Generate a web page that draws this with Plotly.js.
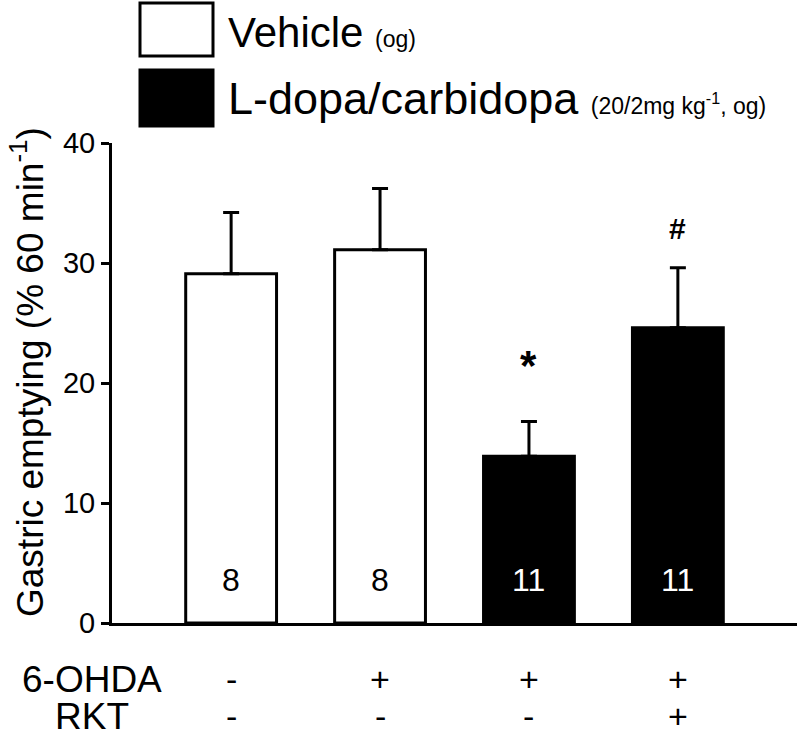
<!DOCTYPE html>
<html>
<head>
<meta charset="utf-8">
<script src="https://cdn.plot.ly/plotly-3.0.1.min.js"></script>
<style>html,body{margin:0;padding:0;background:#fff;}#chart{width:800px;height:737px;}</style>
</head>
<body>
<div id="chart"></div>
<script>
// ---- data ----
const groups = [0, 1, 2, 3];
const vehicleX = [0, 1];
const vehicleMean = [29.1, 31.1];
const vehicleSem = [5.1, 5.1];
const ldopaX = [2, 3];
const ldopaMean = [13.9, 24.6];
const ldopaSem = [2.9, 5.0];
const nLabels = ['8', '8', '11', '11'];
const ohdaRow = ['-', '+', '+', '+'];
const rktRow = ['-', '-', '-', '+'];
const sigX = [2, 3];
const sigY = [21.5, 32.9];
const sigText = ['*', '#'];
const yTicks = [0, 10, 20, 30, 40];
const yTitle = 'Gastric emptying (% 60 min<sup>-1</sup>)';

const FONT = 'Liberation Sans, Arial, sans-serif';

// plot area in pixels: x 112..797, y 143..623
const L = 112, R = 797, T = 143, B = 623;
const px = v => (v - L) / (R - L);
const py = v => (B - v) / (B - T);

const traces = [
  {
    type: 'bar', x: vehicleX, y: vehicleMean, width: 0.61,
    marker: {color: '#ffffff', line: {color: '#000', width: 3}},
    error_y: {type: 'data', symmetric: false, array: vehicleSem, arrayminus: [0, 0],
              color: '#000', thickness: 3, width: 8},
    showlegend: false, hoverinfo: 'skip'
  },
  {
    type: 'bar', x: ldopaX, y: ldopaMean, width: 0.61,
    marker: {color: '#000000', line: {color: '#000', width: 3}},
    error_y: {type: 'data', symmetric: false, array: ldopaSem, arrayminus: [0, 0],
              color: '#000', thickness: 3, width: 8},
    showlegend: false, hoverinfo: 'skip'
  }
];

const annotations = [];
function ann(o) {
  annotations.push(Object.assign({showarrow: false, xanchor: 'center', yanchor: 'middle'}, o));
}
groups.forEach((g, i) => {
  ann({x: g, y: 3.6, xref: 'x', yref: 'y', text: nLabels[i],
    font: {family: FONT, size: 32, color: i < 2 ? '#000' : '#fff'}});
  ann({x: g, y: py(679), xref: 'x', yref: 'paper', text: ohdaRow[i],
    font: {family: FONT, size: 34, color: '#000'}});
  ann({x: g, y: py(716), xref: 'x', yref: 'paper', text: rktRow[i],
    font: {family: FONT, size: 34, color: '#000'}});
});
sigX.forEach((g, i) => {
  ann({x: g, y: sigY[i], xref: 'x', yref: 'y', text: '<b>' + sigText[i] + '</b>',
    font: {family: FONT, size: i === 0 ? 42 : 30, color: '#000'}});
});
ann({x: px(92), y: py(679), xref: 'paper', yref: 'paper', text: '6-OHDA',
  font: {family: FONT, size: 37, color: '#000'}});
ann({x: px(92), y: py(716), xref: 'paper', yref: 'paper', text: 'RKT',
  font: {family: FONT, size: 37, color: '#000'}});
ann({x: px(226), y: py(33), xref: 'paper', yref: 'paper', xanchor: 'left',
  text: 'Vehicle <span style="font-size:23px">(og)</span>', font: {family: FONT, size: 42, color: '#000'}});
ann({x: px(226), y: py(98), xref: 'paper', yref: 'paper', xanchor: 'left',
  text: 'L-dopa/carbidopa <span style="font-size:23px">(20/2mg kg<sup>-1</sup>, og)</span>',
  font: {family: FONT, size: 45, color: '#000'}});
// y-axis title
ann({x: px(27), y: py(372), xref: 'paper', yref: 'paper', textangle: -90, text: yTitle,
  font: {family: FONT, size: 37, color: '#000'}});

const shapes = [
  {type: 'rect', xref: 'paper', yref: 'paper', x0: px(140), x1: px(213), y0: py(56), y1: py(3),
   line: {color: '#000', width: 3}, fillcolor: '#fff'},
  {type: 'rect', xref: 'paper', yref: 'paper', x0: px(140), x1: px(213), y0: py(126), y1: py(70),
   line: {color: '#000', width: 3}, fillcolor: '#000'}
];

const layout = {
  width: 800, height: 737,
  margin: {l: L, r: 800 - R, t: T, b: 737 - B, pad: 0},
  paper_bgcolor: '#fff', plot_bgcolor: '#fff',
  barmode: 'overlay',
  showlegend: false,
  font: {family: FONT, color: '#000'},
  xaxis: {range: [-0.8, 3.8], showticklabels: false, ticks: '', showgrid: false, zeroline: false,
          showline: true, linecolor: '#000', linewidth: 3, fixedrange: true},
  yaxis: {range: [0, 40], tickvals: yTicks, ticks: 'outside', ticklen: 8, tickwidth: 3, tickcolor: '#000',
          showgrid: false, zeroline: false, showline: true, linecolor: '#000', linewidth: 3,
          tickfont: {family: FONT, size: 29, color: '#000'}, fixedrange: true},
  annotations: annotations,
  shapes: shapes
};

Plotly.newPlot('chart', traces, layout, {displayModeBar: false, staticPlot: true});
</script>
</body>
</html>
